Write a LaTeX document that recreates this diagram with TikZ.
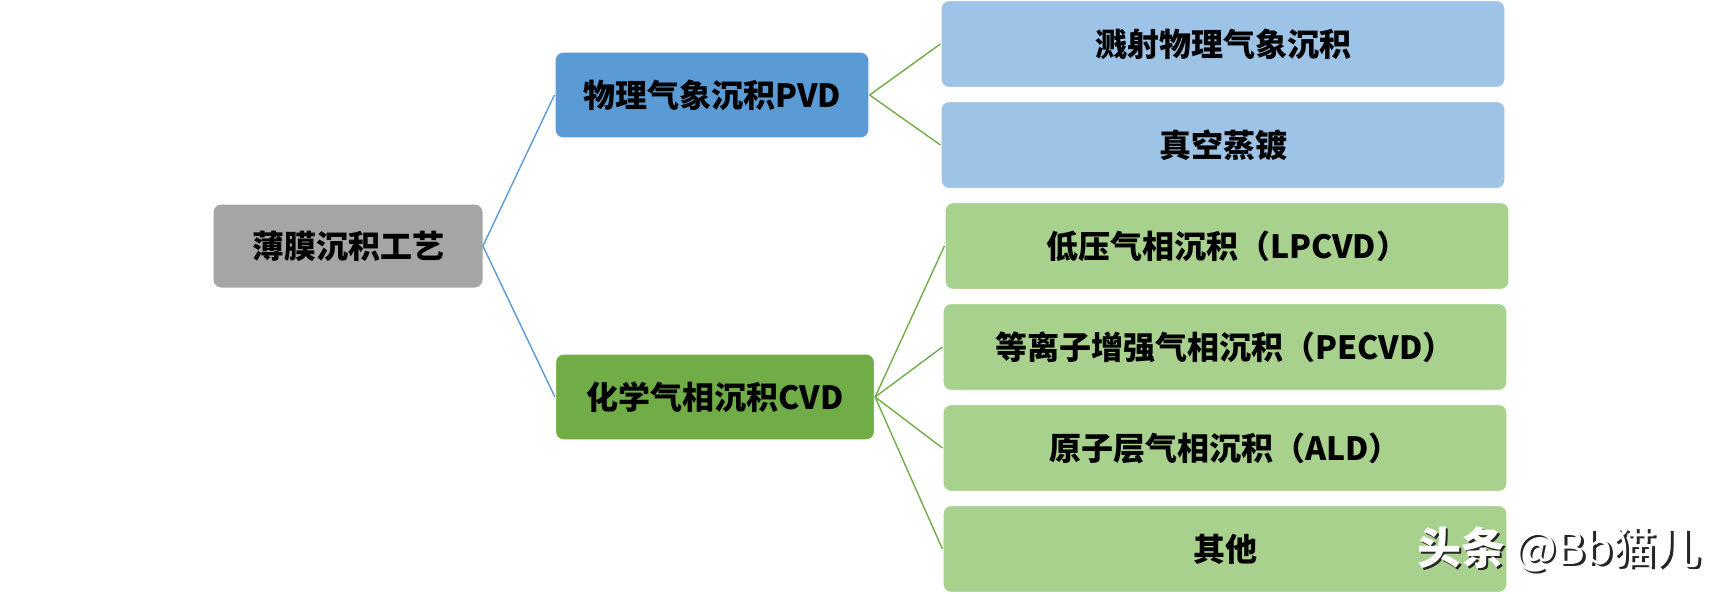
\documentclass[tikz,border=0pt]{standalone}
\usepackage{fontspec}
\setmainfont{Noto Sans CJK SC}
\usepackage{xcolor}
\usepackage{tikz}
\usetikzlibrary{positioning}

\definecolor{rootgray}{HTML}{A5A5A5}
\definecolor{pvdblue}{HTML}{5B9BD5}
\definecolor{pvdlight}{HTML}{9DC3E6}
\definecolor{cvdgreen}{HTML}{70AD47}
\definecolor{cvdlight}{HTML}{A9D18E}

\begin{document}
\begin{tikzpicture}[x=0.5pt,y=-0.5pt,
  box/.style={rounded corners=4pt,inner sep=0pt,align=center,
    font=\fontsize{16}{20}\selectfont\bfseries,text=black},
  rootbox/.style={box,fill=rootgray,minimum width=134.5pt,minimum height=41.5pt},
  midbox/.style={box,minimum width=157pt,minimum height=43pt,draw=white,line width=0.6pt},
  leafbox/.style={box,minimum width=282pt,minimum height=43.5pt,draw=white,line width=0.6pt},
  link/.style={line width=0.7pt}]
\useasboundingbox (0,0) rectangle (1725,594);

\node[rootbox] (root) at (348,246) {薄膜沉积工艺};

\node[midbox,fill=pvdblue] (pvd) at (712,95) {物理气象沉积PVD};
\node[midbox,fill=cvdgreen,minimum width=159.5pt] (cvd) at (715,397) {化学气相沉积CVD};

% PVD branch
\node[leafbox,fill=pvdlight] (sput) at (1223,44) {溅射物理气象沉积};
\node[leafbox,fill=pvdlight] (evap) at (1223,145) {真空蒸镀};

% CVD branch
\node[leafbox,fill=cvdlight] (lpcvd) at (1227,246) {低压气相沉积（LPCVD）};
\node[leafbox,fill=cvdlight] (pecvd) at (1225,347) {等离子增强气相沉积（PECVD）};
\node[leafbox,fill=cvdlight] (ald) at (1225,448) {原子层气相沉积（ALD）};
\node[leafbox,fill=cvdlight] (other) at (1225,549) {其他};

\draw[link,pvdblue] (root.east) -- (pvd.west);
\draw[link,pvdblue] (root.east) -- (cvd.west);
\foreach \leaf in {sput,evap}
  \draw[link,cvdgreen] (pvd.east) -- (\leaf.west);
\foreach \leaf in {lpcvd,pecvd,ald,other}
  \draw[link,cvdgreen] (cvd.east) -- (\leaf.west);

% watermark
\node[text=black!85,font=\fontsize{22}{26}\selectfont] (wmshadow) at (1561.5,551.5)
  {{\bfseries 头条} @Bb猫儿};
\node[text=white,font=\fontsize{22}{26}\selectfont] (wm) at (1559,549)
  {{\bfseries 头条} @Bb猫儿};
\end{tikzpicture}
\end{document}
